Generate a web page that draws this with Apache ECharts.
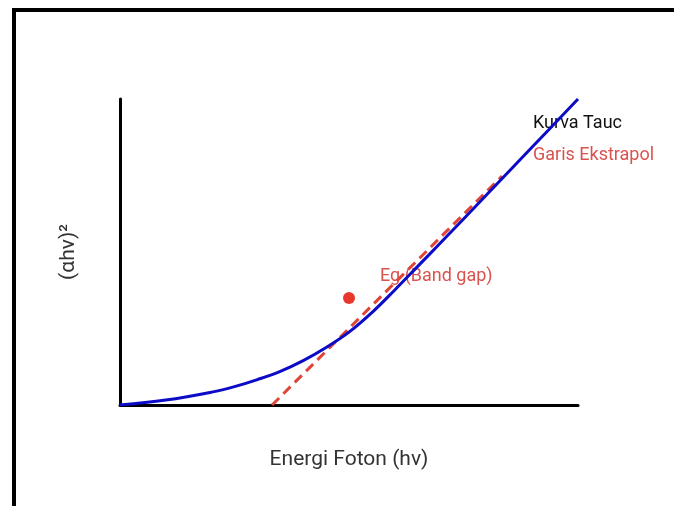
<!DOCTYPE html>
<html>
<head>
<meta charset="utf-8">
<script src="https://cdn.jsdelivr.net/npm/echarts@6/dist/echarts.min.js"></script>
<style>
html,body{margin:0;padding:0;background:#fff;}
#c{width:674px;height:506px;}
</style>
</head>
<body>
<div id="c"></div>
<script>
// Data (arbitrary units)
const energyX = [0, 1, 2, 2.5, 3, 3.5, 4, 4.5, 5, 5.5, 6, 6.5, 7, 8, 9, 10];
const taucY   = [0, 0.16, 0.42, 0.6, 0.83, 1.1, 1.45, 1.88, 2.38, 3.02, 3.76, 4.53, 5.3, 6.86, 8.43, 10];
const extrapolX = [3.32, 8.34];
const extrapolY = [0, 7.48];
const bandGapPoint = [5.0, 3.5];
const xTitle = 'Energi Foton (hv)';
const yTitle = '(αhv)²';
const labels = ['Kurva Tauc', 'Garis Ekstrapol', 'Eg (Band gap)'];

const chart = echarts.init(document.getElementById('c'), null, {renderer: 'canvas'});
const font = 'Roboto, "Noto Sans", sans-serif';
chart.setOption({
  backgroundColor: '#fff',
  animation: false,
  grid: {left: 120, right: 96, top: 99, bottom: 101},
  xAxis: {
    type: 'value', min: 0, max: 10,
    name: xTitle, nameLocation: 'middle', nameGap: 44,
    nameTextStyle: {fontSize: 21, color: '#333', fontFamily: font},
    axisLine: {show: true, lineStyle: {color: '#000', width: 3}},
    axisTick: {show: false}, axisLabel: {show: false}, splitLine: {show: false}
  },
  yAxis: {
    type: 'value', min: 0, max: 10,
    name: yTitle, nameLocation: 'middle', nameGap: 41, nameRotate: 90,
    nameTextStyle: {fontSize: 21, color: '#333', fontFamily: font},
    axisLine: {show: true, lineStyle: {color: '#000', width: 3}},
    axisTick: {show: false}, axisLabel: {show: false}, splitLine: {show: false}
  },
  series: [
    {
      type: 'line', smooth: 0.4, symbol: 'none',
      data: energyX.map((x, i) => [x, taucY[i]]),
      lineStyle: {color: '#0b0bc8', width: 3}, z: 3
    },
    {
      type: 'line', symbol: 'none',
      data: extrapolX.map((x, i) => [x, extrapolY[i]]),
      lineStyle: {color: '#df4436', width: 3, type: [10, 6]}, z: 2
    },
    {
      type: 'scatter', symbolSize: 12,
      data: [bandGapPoint],
      itemStyle: {color: '#e8382b', opacity: 1}, z: 4
    }
  ],
  graphic: [
    {type: 'rect', shape: {x: 14, y: 10, width: 720, height: 620},
     style: {fill: 'none', stroke: '#000', lineWidth: 4}, silent: true},
    {type: 'text', left: 533, top: 114,
     style: {text: labels[0], fontSize: 18, fill: '#111', fontFamily: font}},
    {type: 'text', left: 533, top: 146,
     style: {text: labels[1], fontSize: 18, fill: '#d9534f', fontFamily: font}},
    {type: 'text', left: 380, top: 267,
     style: {text: labels[2], fontSize: 18, fill: '#d9534f', fontFamily: font}}
  ]
});
</script>
</body>
</html>
